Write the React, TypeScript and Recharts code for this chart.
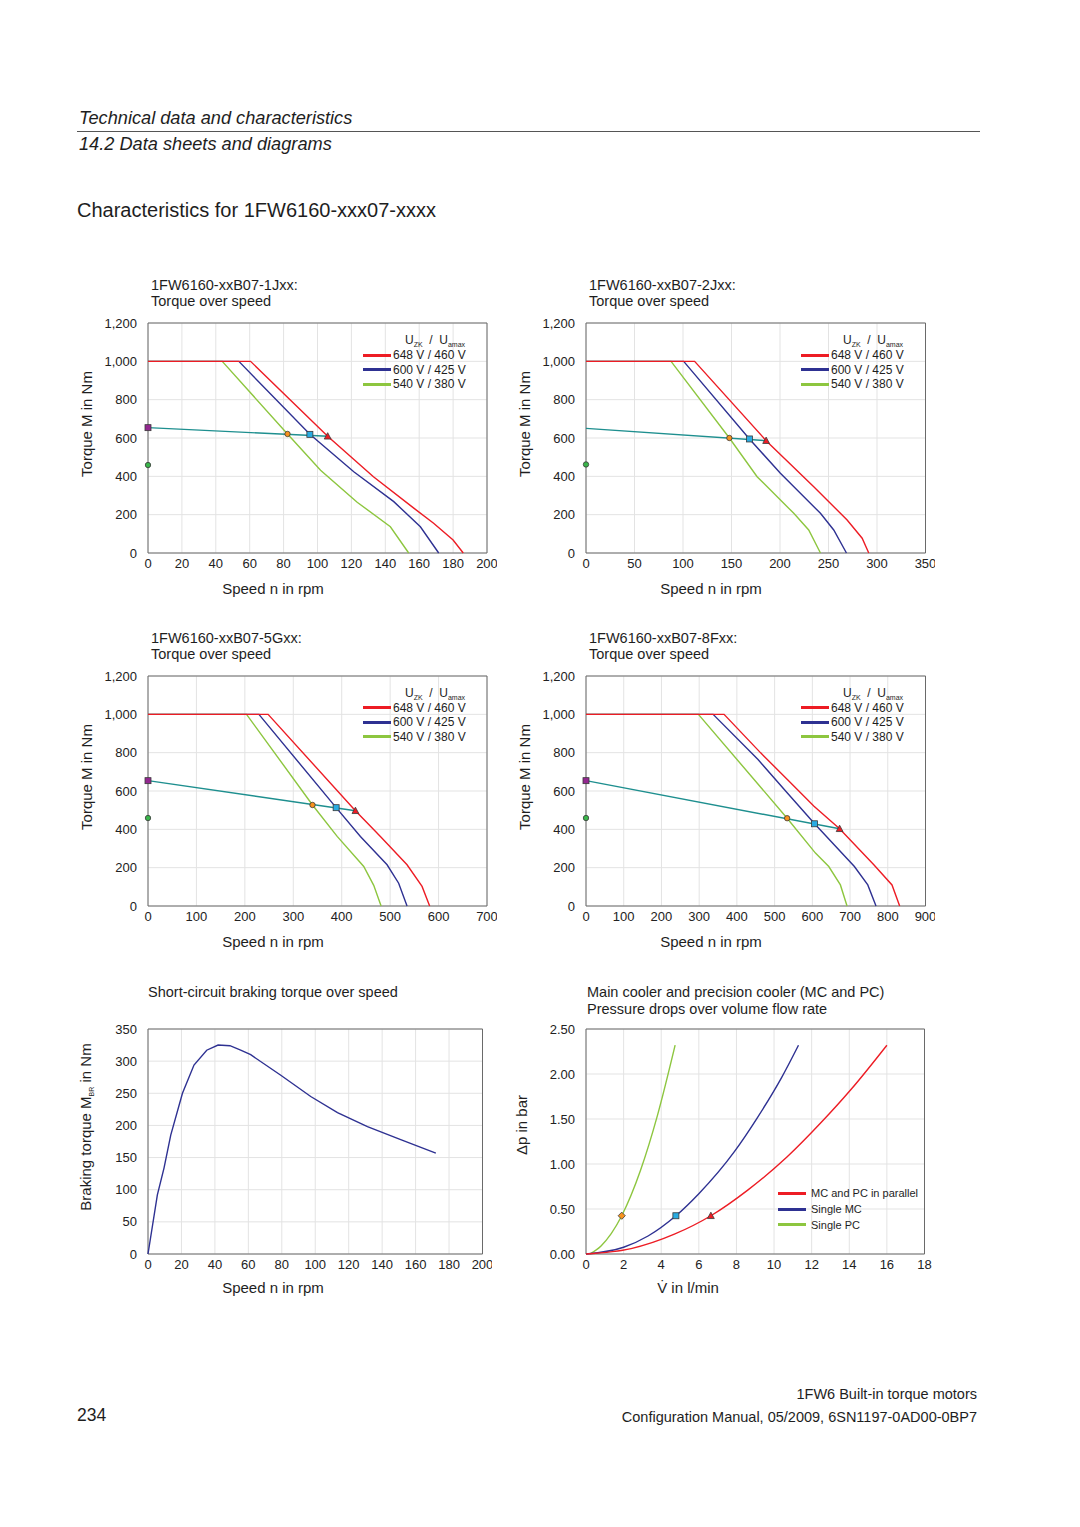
import React from "react";
import { CartesianGrid, ComposedChart, Line, ReferenceArea, Scatter, XAxis, YAxis } from "recharts";

type P = { x: number; y: number };

const RED = "#ed1c24";
const BLUE = "#2e3192";
const GREEN = "#8dc63f";
const TEAL = "#1e8f8f";
const INK = "#1e1e1e";

const torqueTicks = [0, 200, 400, 600, 800, 1000, 1200];
const voltLabels = ["648 V / 460 V", "600 V / 425 V", "540 V / 380 V"];

// 1FW6160-xxB07-1Jxx
const j1Ticks = [0, 20, 40, 60, 80, 100, 120, 140, 160, 180, 200];
const j1Red: P[] = [{ x: 0, y: 1000 }, { x: 60.5, y: 1000 }, { x: 106, y: 609 }, { x: 133, y: 398 }, { x: 157, y: 233 }, { x: 168.5, y: 155 }, { x: 180, y: 68 }, { x: 186, y: 0 }];
const j1Blue: P[] = [{ x: 0, y: 1000 }, { x: 53.6, y: 1000 }, { x: 95.5, y: 619 }, { x: 121.4, y: 424 }, { x: 145, y: 268 }, { x: 160.7, y: 137 }, { x: 171.5, y: 0 }];
const j1Green: P[] = [{ x: 0, y: 1000 }, { x: 43.8, y: 1000 }, { x: 82.3, y: 621 }, { x: 101.8, y: 432 }, { x: 123.4, y: 265 }, { x: 143, y: 137 }, { x: 153.8, y: 0 }];
const j1S1: P[] = [{ x: 0, y: 654 }, { x: 106, y: 609 }];
const j1Marks: (P | null)[] = [{ x: 0, y: 654 }, { x: 82.3, y: 621 }, { x: 95.5, y: 619 }, { x: 106, y: 609 }, { x: 0, y: 459 }];

// 1FW6160-xxB07-2Jxx
const j2Ticks = [0, 50, 100, 150, 200, 250, 300, 350];
const j2Red: P[] = [{ x: 0, y: 1000 }, { x: 112, y: 1000 }, { x: 185.7, y: 586 }, { x: 234.8, y: 346 }, { x: 269.2, y: 172 }, { x: 284.7, y: 77 }, { x: 291.5, y: 0 }];
const j2Blue: P[] = [{ x: 0, y: 1000 }, { x: 100.7, y: 1000 }, { x: 168.5, y: 595 }, { x: 200.4, y: 416 }, { x: 241.7, y: 207 }, { x: 255.4, y: 120 }, { x: 268.5, y: 0 }];
const j2Green: P[] = [{ x: 0, y: 1000 }, { x: 87.7, y: 1000 }, { x: 147.8, y: 600 }, { x: 176.4, y: 398 }, { x: 214.2, y: 207 }, { x: 229.6, y: 120 }, { x: 241.7, y: 0 }];
const j2S1: P[] = [{ x: 0, y: 650 }, { x: 185.7, y: 586 }];
const j2Marks: (P | null)[] = [null, { x: 147.8, y: 600 }, { x: 168.5, y: 595 }, { x: 185.7, y: 586 }, { x: 0, y: 462 }];

// 1FW6160-xxB07-5Gxx
const g5Ticks = [0, 100, 200, 300, 400, 500, 600, 700];
const g5Red: P[] = [{ x: 0, y: 1000 }, { x: 248, y: 1000 }, { x: 428.3, y: 497 }, { x: 479.9, y: 363 }, { x: 534.9, y: 215 }, { x: 565.9, y: 102 }, { x: 581.6, y: 0 }];
const g5Blue: P[] = [{ x: 0, y: 1000 }, { x: 229, y: 1000 }, { x: 388.5, y: 513 }, { x: 438.6, y: 363 }, { x: 493.7, y: 215 }, { x: 517.6, y: 119 }, { x: 534.9, y: 0 }];
const g5Green: P[] = [{ x: 0, y: 1000 }, { x: 203.5, y: 1000 }, { x: 339.7, y: 527 }, { x: 390.6, y: 363 }, { x: 445.5, y: 206 }, { x: 466.1, y: 108 }, { x: 481.3, y: 0 }];
const g5S1: P[] = [{ x: 0, y: 654 }, { x: 428.3, y: 497 }];
const g5Marks: (P | null)[] = [{ x: 0, y: 654 }, { x: 339.7, y: 527 }, { x: 388.5, y: 513 }, { x: 428.3, y: 497 }, { x: 0, y: 459 }];

// 1FW6160-xxB07-8Fxx
const f8Ticks = [0, 100, 200, 300, 400, 500, 600, 700, 800, 900];
const f8Red: P[] = [{ x: 0, y: 1000 }, { x: 366, y: 1000 }, { x: 463, y: 799 }, { x: 533.8, y: 660 }, { x: 604.4, y: 520 }, { x: 672.3, y: 403 }, { x: 763, y: 215 }, { x: 811.2, y: 110 }, { x: 831.5, y: 0 }];
const f8Blue: P[] = [{ x: 0, y: 1000 }, { x: 337, y: 1000 }, { x: 456, y: 764 }, { x: 533.8, y: 590 }, { x: 606, y: 429 }, { x: 711.5, y: 206 }, { x: 747, y: 110 }, { x: 768.8, y: 0 }];
const f8Green: P[] = [{ x: 0, y: 1000 }, { x: 298, y: 1000 }, { x: 533.2, y: 458 }, { x: 608.3, y: 276 }, { x: 643.6, y: 206 }, { x: 674.4, y: 110 }, { x: 692, y: 0 }];
const f8S1: P[] = [{ x: 0, y: 654 }, { x: 672.3, y: 403 }];
const f8Marks: (P | null)[] = [{ x: 0, y: 654 }, { x: 533.2, y: 458 }, { x: 606, y: 429 }, { x: 672.3, y: 403 }, { x: 0, y: 459 }];

// short-circuit braking torque
const brakeXTicks = [0, 20, 40, 60, 80, 100, 120, 140, 160, 180, 200];
const brakeYTicks = [0, 50, 100, 150, 200, 250, 300, 350];
const brake: P[] = [
  { x: 0, y: 0 }, { x: 5.6, y: 92 }, { x: 9.6, y: 134 }, { x: 13.6, y: 185 }, { x: 20.6, y: 250 },
  { x: 27.5, y: 294 }, { x: 35.1, y: 317 }, { x: 41.9, y: 325 }, { x: 49, y: 324 }, { x: 55.4, y: 317 },
  { x: 61.4, y: 310 }, { x: 79.4, y: 278 }, { x: 97.3, y: 245 }, { x: 113.3, y: 220 }, { x: 131.2, y: 198 },
  { x: 151.1, y: 178 }, { x: 172.1, y: 157 },
];

// pressure drops
const flowTicks = [0, 2, 4, 6, 8, 10, 12, 14, 16, 18];
const dpTicks = [0, 0.5, 1, 1.5, 2, 2.5];
const coolLabels = ["MC and PC in parallel", "Single MC", "Single PC"];
const dpParallel: P[] = [{ x: 0, y: 0 }, { x: 2.4, y: 0.06 }, { x: 4.7, y: 0.22 }, { x: 6.64, y: 0.425 }, { x: 8.6, y: 0.71 }, { x: 10.7, y: 1.08 }, { x: 12.5, y: 1.46 }, { x: 14.1, y: 1.83 }, { x: 16, y: 2.32 }];
const dpMC: P[] = [{ x: 0, y: 0 }, { x: 2, y: 0.075 }, { x: 3.3, y: 0.2 }, { x: 4.78, y: 0.425 }, { x: 6, y: 0.67 }, { x: 7.9, y: 1.14 }, { x: 9.1, y: 1.51 }, { x: 10.4, y: 1.96 }, { x: 11.3, y: 2.32 }];
const dpPC: P[] = [{ x: 0.2, y: 0 }, { x: 0.8, y: 0.09 }, { x: 1.9, y: 0.425 }, { x: 2.9, y: 0.93 }, { x: 3.8, y: 1.54 }, { x: 4.74, y: 2.32 }];
const dpMarks: P[] = [{ x: 1.9, y: 0.425 }, { x: 4.78, y: 0.425 }, { x: 6.64, y: 0.425 }];

const markShape = (kind: string, fill: string) => (props: any) => {
  const { cx, cy } = props;
  if (cx == null || cy == null) return <g />;
  const s = "#3a3a3a";
  if (kind === "square") return <rect x={cx - 3} y={cy - 3} width={6} height={6} fill={fill} stroke={s} strokeWidth={0.8} />;
  if (kind === "circle") return <circle cx={cx} cy={cy} r={2.7} fill={fill} stroke={s} strokeWidth={0.8} />;
  if (kind === "triangle")
    return <polygon points={`${cx},${cy - 3.6} ${cx + 3.4},${cy + 2.8} ${cx - 3.4},${cy + 2.8}`} fill={fill} stroke={s} strokeWidth={0.8} />;
  return <polygon points={`${cx},${cy - 3.6} ${cx + 3.6},${cy} ${cx},${cy + 3.6} ${cx - 3.6},${cy}`} fill={fill} stroke={s} strokeWidth={0.8} />;
};

const torqueMarkStyle: [string, string][] = [
  ["square", "#93278f"],
  ["circle", "#f7931e"],
  ["square", "#29abe2"],
  ["triangle", RED],
  ["circle", "#39b54a"],
];

const tickStyle = { fontSize: 13, fill: "#222" };
const subStyle: React.CSSProperties = { fontSize: 7, verticalAlign: "-3px" };

function Txt({ x, y, size = 14.5, italic = false, right = false, children }: any) {
  const st: React.CSSProperties = {
    position: "absolute",
    top: y - 10,
    height: 20,
    lineHeight: "20px",
    fontSize: size,
    fontStyle: italic ? "italic" : "normal",
    whiteSpace: "nowrap",
    color: INK,
  };
  if (right) st.right = 1080 - x;
  else st.left = x;
  return <div style={st}>{children}</div>;
}

function CenterTxt({ x, y, rotate = false, size = 15, children }: any) {
  return (
    <div
      style={{
        position: "absolute",
        left: x,
        top: y,
        fontSize: size,
        whiteSpace: "nowrap",
        color: INK,
        transform: rotate ? "translate(-50%,-50%) rotate(-90deg)" : "translate(-50%,-50%)",
      }}
    >
      {children}
    </div>
  );
}

function Frame({ px, py, pw, ph, xMax, xTicks, yMax, yTicks, yFmt, children }: any) {
  return (
    <div style={{ position: "absolute", left: px - 70, top: py - 10 }}>
      <ComposedChart width={pw + 80} height={ph + 40} margin={{ top: 10, right: 10, bottom: 0, left: 0 }}>
        <CartesianGrid stroke="#e3e3e3" />
        <XAxis
          type="number"
          dataKey="x"
          domain={[0, xMax]}
          ticks={xTicks}
          interval={0}
          height={30}
          tickSize={0}
          tickMargin={6}
          axisLine={false}
          tick={tickStyle}
        />
        <YAxis
          type="number"
          dataKey="y"
          domain={[0, yMax]}
          ticks={yTicks}
          interval={0}
          width={70}
          tickSize={0}
          tickMargin={11}
          axisLine={false}
          tick={tickStyle}
          tickFormatter={yFmt}
        />
        <ReferenceArea x1={0} x2={xMax} y1={0} y2={yMax} fill="none" stroke="#6a6a6a" strokeWidth={1} ifOverflow="visible" />
        {children}
      </ComposedChart>
    </div>
  );
}

function TorqueChart({ px, py, title, xMax, xTicks, red, blue, green, s1, marks }: any) {
  const pw = px > 500 ? 339.5 : 339;
  return (
    <>
      <Txt x={px + 3.5} y={py - 38}>{title}</Txt>
      <Txt x={px + 3.5} y={py - 22}>Torque over speed</Txt>
      <CenterTxt x={px - 61.5} y={py + 101} rotate>Torque M in Nm</CenterTxt>
      <CenterTxt x={px + 125.5} y={py + 265}>Speed n in rpm</CenterTxt>
      <Frame
        px={px}
        py={py}
        pw={pw}
        ph={230}
        xMax={xMax}
        xTicks={xTicks}
        yMax={1200}
        yTicks={torqueTicks}
        yFmt={(v: number) => v.toLocaleString("en-US")}
      >
        <Line data={green} dataKey="y" type="linear" stroke={GREEN} strokeWidth={1.4} dot={false} isAnimationActive={false} />
        <Line data={blue} dataKey="y" type="linear" stroke={BLUE} strokeWidth={1.4} dot={false} isAnimationActive={false} />
        <Line data={red} dataKey="y" type="linear" stroke={RED} strokeWidth={1.4} dot={false} isAnimationActive={false} />
        <Line data={s1} dataKey="y" type="linear" stroke={TEAL} strokeWidth={1.4} dot={false} isAnimationActive={false} />
        {marks.map((m: P | null, i: number) =>
          m ? (
            <Scatter
              key={i}
              data={[m]}
              dataKey="y"
              shape={markShape(torqueMarkStyle[i][0], torqueMarkStyle[i][1])}
              isAnimationActive={false}
            />
          ) : null
        )}
      </Frame>
      <div style={{ position: "absolute", left: px + 215.5, top: py + 9, fontSize: 12, color: INK }}>
        <div style={{ paddingLeft: 42, height: 16, lineHeight: "16px", whiteSpace: "nowrap" }}>
          U<sub style={subStyle}>ZK</sub>&nbsp; /&nbsp; U<sub style={subStyle}>amax</sub>
        </div>
        {voltLabels.map((l, i) => (
          <div key={l} style={{ display: "flex", alignItems: "center", height: 14.5, whiteSpace: "nowrap" }}>
            <span style={{ width: 28, height: 3, background: [RED, BLUE, GREEN][i], marginRight: 2 }} />
            {l}
          </div>
        ))}
      </div>
    </>
  );
}

export default function App() {
  return (
    <div
      style={{
        position: "absolute",
        left: 0,
        top: 0,
        width: 1080,
        height: 1527,
        background: "#fff",
        fontFamily: '"Liberation Sans", Arial, sans-serif',
        overflow: "hidden",
      }}
    >
      <Txt x={79} y={118} size={18.2} italic>Technical data and characteristics</Txt>
      <div style={{ position: "absolute", left: 77, top: 131, width: 903, height: 1, background: "#555" }} />
      <Txt x={79} y={144} size={18.2} italic>14.2 Data sheets and diagrams</Txt>
      <Txt x={77} y={210} size={20}>Characteristics for 1FW6160-xxx07-xxxx</Txt>

      <TorqueChart px={147.5} py={323} title="1FW6160-xxB07-1Jxx:" xMax={200} xTicks={j1Ticks} red={j1Red} blue={j1Blue} green={j1Green} s1={j1S1} marks={j1Marks} />
      <TorqueChart px={585.5} py={323} title="1FW6160-xxB07-2Jxx:" xMax={350} xTicks={j2Ticks} red={j2Red} blue={j2Blue} green={j2Green} s1={j2S1} marks={j2Marks} />
      <TorqueChart px={147.5} py={675.5} title="1FW6160-xxB07-5Gxx:" xMax={700} xTicks={g5Ticks} red={g5Red} blue={g5Blue} green={g5Green} s1={g5S1} marks={g5Marks} />
      <TorqueChart px={585.5} py={675.5} title="1FW6160-xxB07-8Fxx:" xMax={900} xTicks={f8Ticks} red={f8Red} blue={f8Blue} green={f8Green} s1={f8S1} marks={f8Marks} />

      {/* braking torque */}
      <Txt x={148} y={992}>Short-circuit braking torque over speed</Txt>
      <CenterTxt x={86} y={1127} rotate>
        Braking torque M<sub style={subStyle}>BR</sub> in Nm
      </CenterTxt>
      <CenterTxt x={273} y={1287}>Speed n in rpm</CenterTxt>
      <Frame px={147.5} py={1029} pw={334.5} ph={225} xMax={200} xTicks={brakeXTicks} yMax={350} yTicks={brakeYTicks} yFmt={(v: number) => String(v)}>
        <Line data={brake} dataKey="y" type="linear" stroke={BLUE} strokeWidth={1.4} dot={false} isAnimationActive={false} />
      </Frame>

      {/* pressure drops */}
      <Txt x={587} y={992}>Main cooler and precision cooler (MC and PC)</Txt>
      <Txt x={587} y={1009}>Pressure drops over volume flow rate</Txt>
      <CenterTxt x={521} y={1125} rotate>Δp in bar</CenterTxt>
      <CenterTxt x={688} y={1287}>V̇ in l/min</CenterTxt>
      <Frame px={585.5} py={1029} pw={338.5} ph={225} xMax={18} xTicks={flowTicks} yMax={2.5} yTicks={dpTicks} yFmt={(v: number) => v.toFixed(2)}>
        <Line data={dpPC} dataKey="y" type="monotone" stroke={GREEN} strokeWidth={1.4} dot={false} isAnimationActive={false} />
        <Line data={dpMC} dataKey="y" type="monotone" stroke={BLUE} strokeWidth={1.4} dot={false} isAnimationActive={false} />
        <Line data={dpParallel} dataKey="y" type="monotone" stroke={RED} strokeWidth={1.4} dot={false} isAnimationActive={false} />
        <Scatter data={[dpMarks[0]]} dataKey="y" shape={markShape("diamond", "#f7931e")} isAnimationActive={false} />
        <Scatter data={[dpMarks[1]]} dataKey="y" shape={markShape("square", "#29abe2")} isAnimationActive={false} />
        <Scatter data={[dpMarks[2]]} dataKey="y" shape={markShape("triangle", RED)} isAnimationActive={false} />
      </Frame>
      <div style={{ position: "absolute", left: 778, top: 1185.5, fontSize: 11, color: INK }}>
        {coolLabels.map((l, i) => (
          <div key={l} style={{ display: "flex", alignItems: "center", height: 15.7, whiteSpace: "nowrap" }}>
            <span style={{ width: 28, height: 3, background: [RED, BLUE, GREEN][i], marginRight: 5 }} />
            {l}
          </div>
        ))}
      </div>

      <Txt x={977} y={1394} size={14.5} right>1FW6 Built-in torque motors</Txt>
      <Txt x={77} y={1415} size={17.5}>234</Txt>
      <Txt x={977} y={1417} size={14.5} right>Configuration Manual, 05/2009, 6SN1197-0AD00-0BP7</Txt>
    </div>
  );
}
